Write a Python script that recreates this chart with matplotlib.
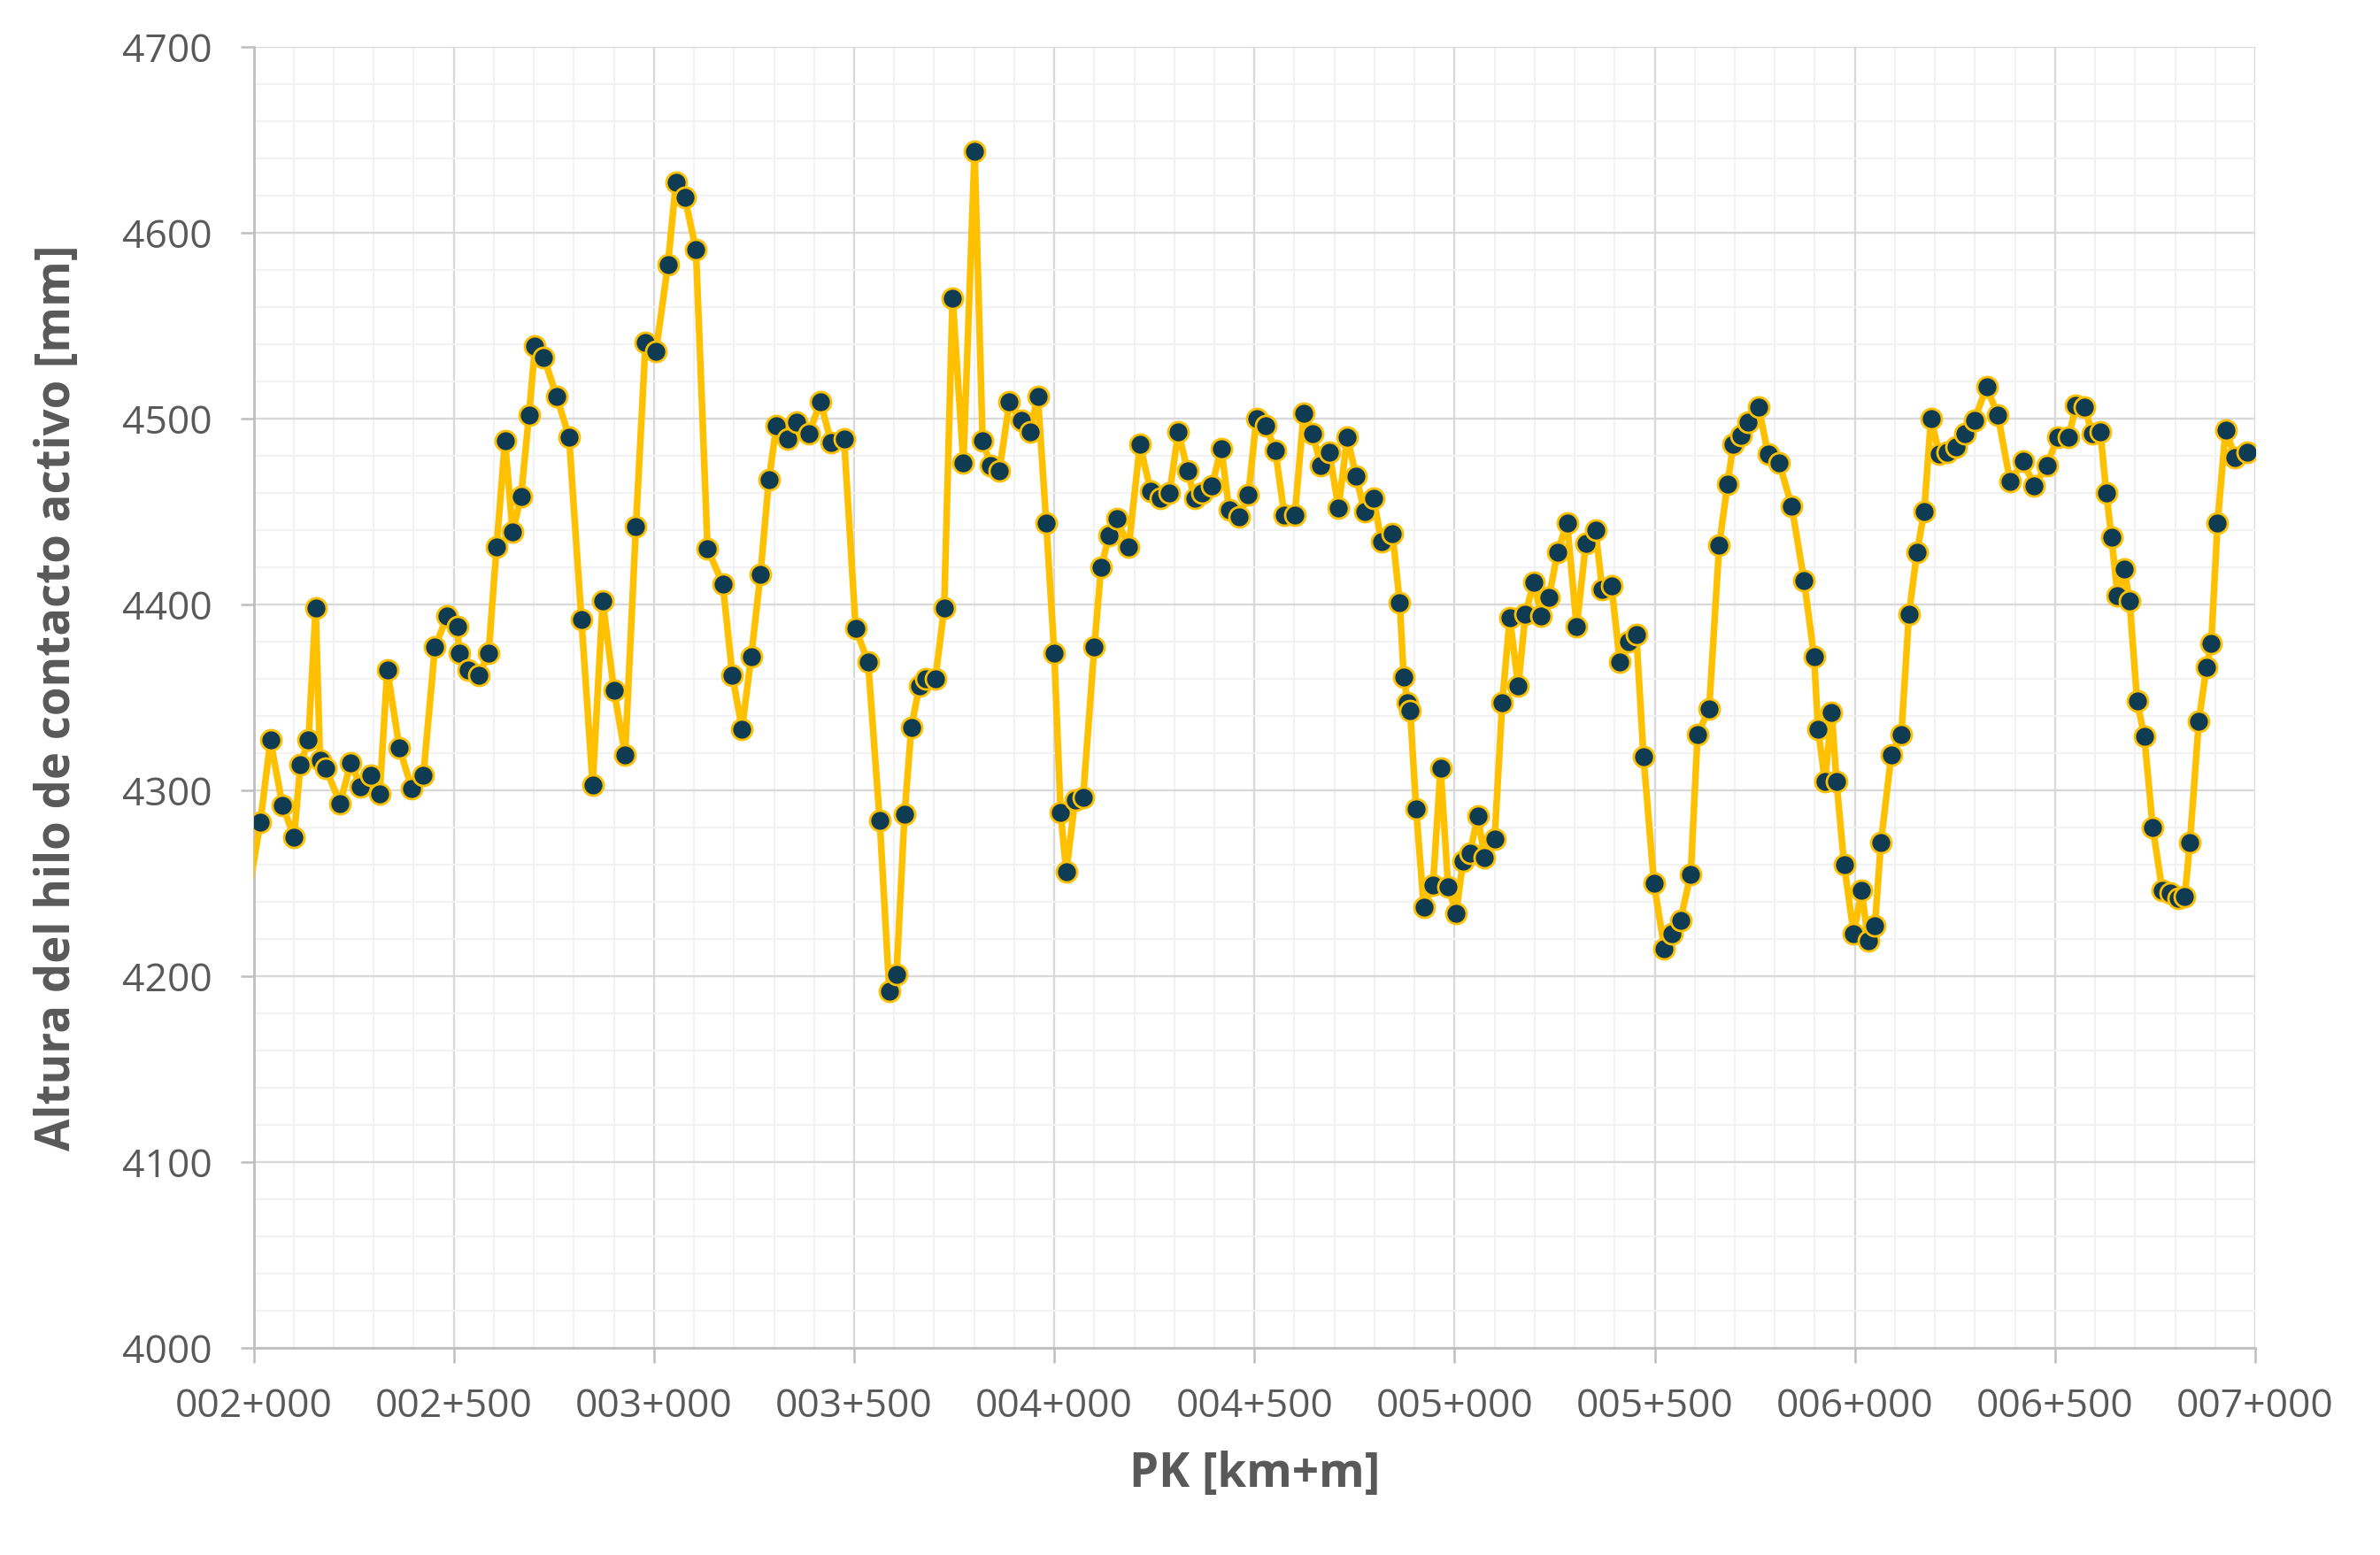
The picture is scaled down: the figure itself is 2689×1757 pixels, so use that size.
import matplotlib
matplotlib.use("Agg")
import matplotlib.pyplot as plt
from matplotlib.ticker import MultipleLocator, FuncFormatter

plt.rcParams['font.family'] = ['Open Sans', 'DejaVu Sans']

# PK en metros y altura del hilo de contacto [mm]
pk = [1970, 2017, 2042, 2072, 2101, 2117, 2137, 2155, 2166, 2180, 2216, 2243, 2267, 2292,
      2315, 2334, 2364, 2395, 2424, 2453, 2484, 2510, 2513, 2536, 2563, 2587, 2607, 2628,
      2647, 2668, 2688, 2703, 2725, 2757, 2788, 2819, 2847, 2872, 2900, 2928, 2955, 2979,
      3005, 3035, 3055, 3077, 3105, 3134, 3172, 3196, 3220, 3243, 3266, 3287, 3306, 3334,
      3356, 3387, 3416, 3443, 3475, 3504, 3535, 3564, 3588, 3606, 3626, 3643, 3663, 3679,
      3703, 3725, 3746, 3773, 3801, 3821, 3841, 3863, 3888, 3917, 3939, 3959, 3980, 4000,
      4016, 4030, 4052, 4072, 4100, 4117, 4137, 4156, 4186, 4214, 4241, 4266, 4288, 4310,
      4333, 4351, 4369, 4394, 4417, 4437, 4461, 4485, 4505, 4529, 4552, 4575, 4601, 4623,
      4645, 4666, 4687, 4710, 4732, 4754, 4775, 4798, 4817, 4845, 4863, 4873, 4883, 4889,
      4904, 4923, 4946, 4965, 4984, 5004, 5021, 5038, 5058, 5075, 5100, 5119, 5138, 5159,
      5177, 5198, 5216, 5236, 5257, 5281, 5305, 5328, 5352, 5369, 5392, 5413, 5434, 5454,
      5472, 5498, 5524, 5544, 5564, 5590, 5607, 5636, 5661, 5682, 5696, 5715, 5733, 5760,
      5783, 5811, 5842, 5873, 5898, 5908, 5925, 5942, 5954, 5973, 5997, 6017, 6033, 6050,
      6065, 6091, 6116, 6135, 6155, 6173, 6190, 6211, 6230, 6252, 6274, 6298, 6329, 6357,
      6388, 6420, 6448, 6480, 6506, 6534, 6552, 6574, 6593, 6613, 6628, 6641, 6656, 6673,
      6686, 6705, 6723, 6744, 6768, 6787, 6807, 6824, 6837, 6859, 6878, 6890, 6906, 6926,
      6950, 6981]

altura = [4222, 4283, 4327, 4292, 4275, 4314, 4327, 4398, 4316, 4312, 4293, 4315, 4302, 4308,
          4298, 4365, 4323, 4301, 4308, 4377, 4394, 4388, 4374, 4365, 4362, 4374, 4431, 4488,
          4439, 4458, 4502, 4539, 4533, 4512, 4490, 4392, 4303, 4402, 4354, 4319, 4442, 4541,
          4536, 4583, 4627, 4619, 4591, 4430, 4411, 4362, 4333, 4372, 4416, 4467, 4496, 4489,
          4498, 4492, 4509, 4487, 4489, 4387, 4369, 4284, 4192, 4201, 4287, 4334, 4356, 4360,
          4360, 4398, 4565, 4476, 4644, 4488, 4475, 4472, 4509, 4499, 4493, 4512, 4444, 4374,
          4288, 4256, 4295, 4296, 4377, 4420, 4437, 4446, 4431, 4486, 4461, 4457, 4460, 4493,
          4472, 4457, 4460, 4464, 4484, 4451, 4447, 4459, 4500, 4496, 4483, 4448, 4448, 4503,
          4492, 4475, 4482, 4452, 4490, 4469, 4450, 4457, 4434, 4438, 4401, 4361, 4347, 4343,
          4290, 4237, 4249, 4312, 4248, 4234, 4262, 4266, 4286, 4264, 4274, 4347, 4393, 4356,
          4395, 4412, 4394, 4404, 4428, 4444, 4388, 4433, 4440, 4408, 4410, 4369, 4380, 4384,
          4318, 4250, 4215, 4223, 4230, 4255, 4330, 4344, 4432, 4465, 4486, 4491, 4498, 4506,
          4481, 4476, 4453, 4413, 4372, 4333, 4305, 4342, 4305, 4260, 4223, 4246, 4219, 4227,
          4272, 4319, 4330, 4395, 4428, 4450, 4500, 4481, 4482, 4485, 4492, 4499, 4517, 4502,
          4466, 4477, 4464, 4475, 4490, 4490, 4507, 4506, 4492, 4493, 4460, 4436, 4405, 4419,
          4402, 4348, 4329, 4280, 4246, 4245, 4242, 4243, 4272, 4337, 4366, 4379, 4444, 4494,
          4479, 4482]

GRIS = '#595959'

fig = plt.figure(figsize=(13.445, 8.785), dpi=200)
ax = fig.add_axes([0.10655, 0.13318, 0.84102, 0.83665])

ax.plot(pk, altura, color='#FFC000', lw=2.7, marker='o', markersize=8.3,
        markerfacecolor='#0F3B53', markeredgecolor='#FFC000', markeredgewidth=1.0,
        zorder=3)

ax.set_xlim(2000, 7000)
ax.set_ylim(4000, 4700)
ax.xaxis.set_major_locator(MultipleLocator(500))
ax.xaxis.set_minor_locator(MultipleLocator(100))
ax.yaxis.set_major_locator(MultipleLocator(100))
ax.yaxis.set_minor_locator(MultipleLocator(20))

def fmt_pk(x, pos):
    x = int(round(x))
    return f"{x // 1000:03d}+{x % 1000:03d}"

ax.xaxis.set_major_formatter(FuncFormatter(fmt_pk))

ax.grid(which='minor', color='#F2F2F2', lw=0.75, zorder=0)
ax.grid(which='major', color='#D9D9D9', lw=0.85, zorder=1)
ax.set_axisbelow(True)

for s in ['top', 'right']:
    ax.spines[s].set_visible(False)
for s in ['left', 'bottom']:
    ax.spines[s].set_color('#BFBFBF')
    ax.spines[s].set_linewidth(1.0)

ax.tick_params(axis='x', which='major', length=6.1, width=0.9, color='#BFBFBF',
               labelsize=16, labelcolor=GRIS, pad=10)
ax.tick_params(axis='y', which='major', length=5.4, width=0.9, color='#BFBFBF',
               labelsize=16, labelcolor=GRIS, pad=11.5)
ax.tick_params(which='minor', length=0)

ax.set_xlabel('PK [km+m]', fontsize=19, fontweight='bold', color=GRIS)
ax.set_ylabel('Altura del hilo de contacto activo [mm]', fontsize=19,
              fontweight='bold', color=GRIS)
ax.xaxis.set_label_coords(0.5, -0.079)
ax.yaxis.set_label_coords(-0.086, 0.5)

fig.savefig('out.png', dpi=200)
